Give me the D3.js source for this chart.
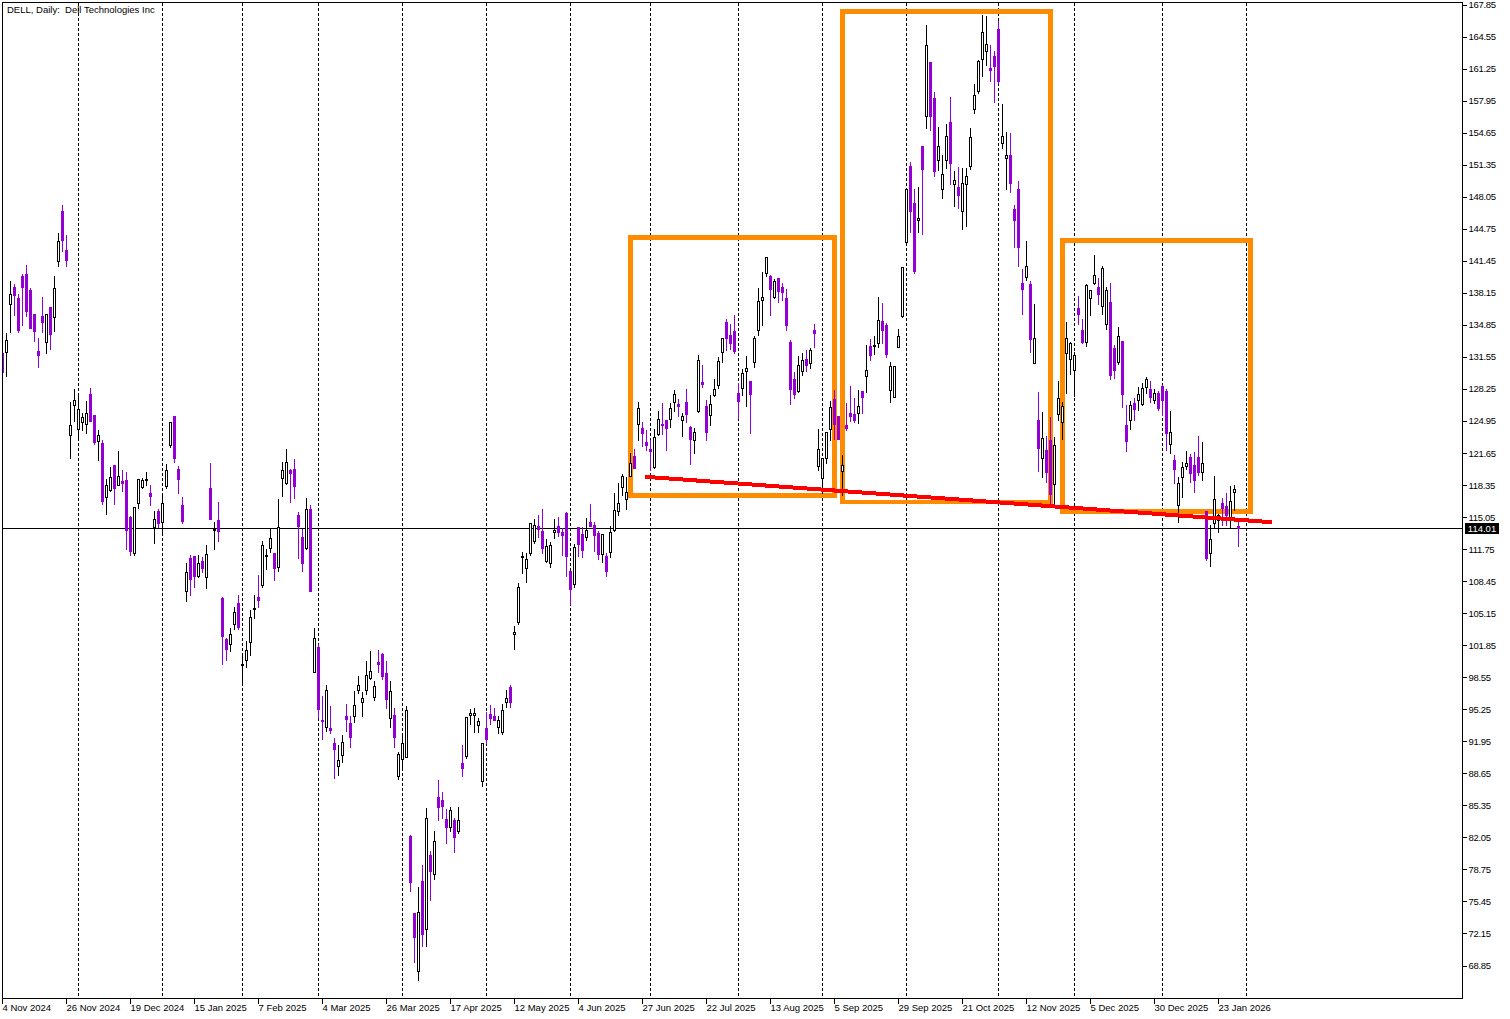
<!DOCTYPE html>
<html>
<head>
<meta charset="utf-8">
<style>
    html, body { margin: 0; padding: 0; background: #fff; overflow: hidden; }
    svg { display: block; }
    text { font-family: "Liberation Sans", sans-serif; font-size: 9.5px; fill: #000; white-space: pre; }
</style>
</head>
<body>
<svg id="chart" width="1510" height="1019"></svg>
<script src="https://cdn.jsdelivr.net/npm/d3@7"></script>
<script>
var title = "DELL, Daily:  Dell Technologies Inc"

var opens = [
    131.96,132.13,137.01,138.76,137.66,139.93,140.14,138.49,136.0,132.2,
    135.8,133.17,136.7,135.67,141.5,146.6,142.6,123.6,126.6,124.13,
    124.86,124.65,127.77,125.58,122.97,122.69,117.2,117.88,120.46,118.43,
    118.81,118.9,115.1,111.43,116.5,118.23,118.9,117.57,114.1,115.72,
    114.62,118.33,122.55,125.47,120.0,116.34,107.45,110.88,111.08,109.06,
    110.57,108.96,118.09,113.8,114.79,106.76,102.5,102.06,104.05,106.25,
    99.86,100.34,102.26,105.63,106.86,108.13,111.05,111.94,111.36,109.99,
    119.15,118.57,119.94,120.01,115.31,113.04,111.94,115.93,99.17,101.68,
    94.19,93.5,93.37,91.82,89.49,90.62,94.57,93.88,94.64,97.31,
    96.08,97.31,98.55,96.6,100.16,100.99,99.03,94.43,94.7,88.45,
    90.21,90.41,82.24,74.27,68.37,77.6,72.63,80.28,78.29,86.26,
    85.95,83.99,83.17,83.85,82.79,89.73,90.45,94.74,94.74,93.71,
    87.94,93.37,94.81,94.6,93.5,93.0,96.01,97.59,103.08,104.25,
    111.0,109.88,111.43,112.67,114.18,113.63,110.57,110.4,113.6,114.18,
    113.6,115.51,109.54,108.23,114.04,113.35,113.0,114.59,114.28,113.45,
    111.26,111.09,111.46,113.73,115.72,118.16,116.92,119.33,121.39,124.72,
    124.24,122.83,122.11,120.29,123.69,124.7,125.1,125.24,126.98,126.74,
    125.06,126.95,124.41,123.0,125.99,129.0,126.54,125.65,127.64,128.67,
    132.07,135.19,133.85,134.27,127.84,128.43,130.11,129.11,131.11,134.4,
    137.5,140.27,139.93,137.8,139.73,138.8,137.63,133.13,129.32,128.08,
    130.18,131.38,131.0,134.37,120.39,119.15,121.2,124.2,127.26,125.5,
    119.8,124.58,125.82,125.71,125.8,128.12,129.66,132.72,132.72,133.06,
    135.26,134.9,128.22,127.5,132.65,135.85,143.4,151.26,147.42,145.66,
    153.3,156.38,161.98,158.27,151.92,148.93,151.92,155.8,149.44,149.1,
    146.66,149.44,151.3,157.17,159.02,162.32,163.15,161.36,162.6,165.38,
    153.67,152.12,152.4,146.83,148.9,139.2,139.86,139.1,131.0,125.1,
    121.2,122.0,123.0,118.5,125.7,124.9,132.0,131.41,130.21,136.63,
    134.37,133.1,137.7,139.25,138.8,136.81,134.99,137.25,132.51,131.07,
    133.23,124.58,125.13,126.85,127.16,126.78,128.53,128.29,127.16,127.88,
    128.6,128.08,122.6,121.0,116.37,119.26,120.4,121.29,120.46,121.29,
    119.77,115.72,111.36,114.45,114.8,116.51,116.24,114.8,117.7,114.18
]

var highs = [
    132.5,134.16,139.52,139.18,138.15,140.2,141.17,138.76,136.0,133.6,
    137.87,136.08,136.7,140.03,144.46,147.4,144.26,127.05,128.36,128.0,
    125.9,127.2,128.5,125.58,124.17,123.1,119.08,120.36,120.46,121.97,
    120.0,119.84,115.3,116.17,119.05,119.19,119.84,118.5,115.82,115.99,
    117.47,120.63,124.85,125.47,120.46,117.27,110.43,111.3,111.08,111.3,
    111.08,112.32,120.77,114.69,116.75,106.97,102.78,103.74,105.94,107.17,
    100.96,102.43,105.63,107.17,109.23,112.73,111.87,113.93,111.46,117.03,
    120.87,122.18,120.12,121.18,115.69,113.93,117.13,116.44,103.74,102.09,
    96.77,97.87,95.74,92.44,91.68,92.71,95.91,94.7,97.28,98.79,
    97.18,100.37,101.4,98.31,101.5,101.16,100.37,98.28,95.53,91.03,
    92.71,95.73,82.45,74.27,77.09,79.35,85.23,80.8,82.86,88.11,
    86.88,85.12,85.3,84.16,85.3,91.72,94.53,95.39,95.53,94.46,
    91.89,95.15,95.84,95.49,94.7,95.91,97.35,97.9,103.98,108.37,
    111.6,111.46,114.55,114.97,115.41,116.0,112.9,112.6,114.97,115.2,
    114.1,115.69,109.54,112.39,114.18,114.18,115.07,116.51,114.66,113.76,
    113.42,111.5,114.25,117.64,118.74,119.6,119.33,121.76,122.18,127.02,
    124.96,124.13,123.1,124.24,126.09,126.95,125.1,126.95,128.29,127.36,
    125.96,128.39,124.58,124.34,131.9,130.87,127.26,127.77,129.39,131.69,
    133.61,135.6,135.09,136.0,129.01,130.42,131.76,129.11,133.82,138.8,
    140.41,141.96,140.14,139.73,139.83,139.31,138.7,133.44,130.14,131.76,
    132.07,132.41,132.62,135.09,124.24,121.15,123.93,127.2,128.29,125.5,
    121.6,126.95,128.7,127.47,128.29,128.19,132.9,133.55,133.9,137.87,
    137.25,135.2,131.17,130.73,134.54,140.96,148.93,151.78,149.0,149.2,
    153.3,165.9,162.08,158.99,155.38,152.5,155.69,158.48,150.85,151.26,
    151.13,151.16,155.28,159.78,162.25,166.92,166.82,163.83,163.2,166.3,
    157.75,154.87,154.77,147.35,149.82,140.76,143.64,139.52,137.15,128.1,
    126.0,123.55,125.5,123.45,129.2,127.05,135.3,133.23,132.24,137.97,
    135.6,139.18,138.49,142.2,139.86,141.06,138.9,139.31,132.93,134.78,
    133.34,126.74,127.16,127.47,128.6,129.0,129.63,129.22,128.4,128.19,
    128.8,128.39,126.13,121.6,119.3,120.87,121.99,121.7,121.9,123.55,
    122.93,115.72,114.38,119.43,115.48,117.2,117.7,118.4,118.5,114.8
]

var lows = [
    129.7,129.66,134.2,135.9,134.2,134.9,135.8,134.6,133.27,130.6,
    134.2,132.03,132.45,134.3,141.0,142.5,140.96,121.2,125.0,123.1,
    124.07,123.8,125.0,122.66,120.97,116.44,115.41,117.78,116.44,118.43,
    117.78,111.8,111.2,111.2,116.06,118.13,118.43,116.34,112.46,114.1,
    113.4,118.1,122.35,120.77,117.6,114.52,106.48,107.06,107.92,108.96,
    109.44,107.79,114.9,111.8,112.63,99.96,100.37,101.33,103.57,103.57,
    98.04,99.69,100.89,104.67,105.86,107.93,109.75,111.53,108.61,109.54,
    117.27,118.5,116.65,117.06,110.88,109.54,111.84,107.5,99.17,94.36,
    92.23,93.09,92.88,88.22,88.52,89.9,93.06,91.44,93.98,97.0,
    94.6,96.87,98.38,96.25,99.14,98.41,95.42,93.5,91.44,88.15,
    89.4,90.41,76.57,69.26,67.4,70.9,70.9,75.65,77.81,83.9,
    84.06,81.52,82.76,80.59,82.58,88.42,90.24,93.78,92.95,92.95,
    87.39,91.79,93.78,94.19,92.85,92.75,95.53,95.53,101.5,104.08,
    109.3,108.41,111.22,112.46,113.08,111.43,110.47,109.99,112.97,113.15,
    111.2,109.03,106.14,107.93,111.09,110.98,112.73,114.18,111.6,110.78,
    110.47,109.03,110.98,113.7,115.3,117.37,115.9,119.3,120.18,123.04,
    122.42,122.0,119.95,120.15,123.55,123.65,122.0,124.4,126.02,125.51,
    123.45,124.89,120.56,121.7,125.95,128.5,123.04,124.58,127.57,128.36,
    131.07,132.3,132.41,132.0,125.27,127.67,126.54,123.76,130.56,133.85,
    134.9,139.93,135.91,137.66,137.25,137.46,134.37,126.74,127.36,127.95,
    129.73,130.14,130.45,132.62,119.95,117.54,120.7,123.04,123.1,123.14,
    117.37,124.07,125.0,124.9,124.79,125.85,128.0,131.3,131.9,132.65,
    133.06,131.62,126.99,127.43,132.65,135.74,143.1,144.5,140.27,144.5,
    144.26,155.18,154.97,150.23,150.85,147.97,151.09,149.4,147.14,146.94,
    144.77,145.08,150.96,156.76,158.78,160.54,161.67,160.02,157.86,159.82,
    153.12,148.89,148.6,142.92,140.96,136.0,139.52,132.1,131.0,119.84,
    119.2,118.7,116.5,116.34,125.1,123.14,127.9,129.83,127.57,134.99,
    133.03,132.72,135.91,139.1,137.05,136.0,134.47,129.32,129.42,130.86,
    126.44,121.9,124.17,125.1,126.13,126.64,127.88,126.95,126.85,126.13,
    125.6,122.0,121.7,118.6,114.6,117.16,120.0,118.7,117.68,119.4,
    118.92,110.67,110.05,114.04,113.6,114.28,114.28,114.1,115.83,112.1
]

var closes = [
    130.07,133.34,138.04,137.97,134.37,138.83,136.36,134.6,134.3,131.8,
    135.2,135.98,133.96,138.66,143.5,143.64,141.6,124.55,127.2,126.2,
    125.44,125.85,125.03,122.86,123.58,116.79,118.36,119.26,118.12,119.29,
    118.6,113.76,111.6,116.17,119.0,118.88,119.0,117.27,114.86,114.52,
    116.51,119.9,124.85,121.2,119.05,114.7,109.4,108.75,109.03,110.33,
    109.85,111.25,114.9,113.9,113.66,102.85,101.5,103.02,105.28,103.8,
    99.93,101.37,104.77,105.73,106.55,112.18,111.15,112.9,109.85,114.04,
    119.91,120.73,119.64,118.3,114.17,110.4,115.9,107.5,102.6,95.36,
    94.1,97.25,93.16,91.2,90.04,91.89,94.29,92.44,95.7,97.76,
    96.42,98.79,99.2,97.66,99.96,98.72,96.35,97.14,92.44,90.65,
    91.79,95.19,77.54,71.87,74.38,72.18,84.06,78.63,81.69,85.23,
    85.33,83.17,84.88,82.14,83.85,89.24,94.46,94.88,94.88,94.05,
    91.79,92.23,94.4,94.19,94.16,95.19,96.42,96.05,103.22,107.86,
    111.1,110.74,114.45,114.25,113.9,111.94,112.08,112.2,113.73,113.56,
    113.28,111.12,107.69,111.98,112.32,111.7,113.73,114.18,113.28,111.29,
    113.32,109.54,113.52,115.79,116.51,119.29,117.71,120.63,120.18,126.3,
    123.76,122.52,121.9,123.31,125.17,124.58,124.27,126.3,127.74,126.54,
    125.47,125.71,123.14,123.83,131.24,128.8,123.86,126.71,128.26,131.14,
    133.51,133.54,133.03,132.2,127.05,129.9,130.42,127.77,133.51,137.32,
    137.74,141.85,138.59,139.38,138.39,138.28,134.88,128.32,127.77,130.73,
    131.28,130.76,132.27,134.06,122.07,121.15,123.83,126.4,124.72,123.14,
    120.43,124.27,125.5,125.1,126.5,127.5,130.25,131.8,132.82,135.37,
    134.37,131.9,130.62,130.62,133.72,140.82,148.86,146.66,140.48,145.94,
    150.99,163.7,156.45,150.75,153.29,150.4,154.32,151.57,149.79,148.28,
    149.48,150.23,154.22,158.54,162.05,165.03,163.8,161.15,161.57,160.02,
    154.35,152.4,149.5,145.7,142.92,138.6,140.93,133.44,133.5,122.2,
    123.2,119.74,117.5,122.5,127.33,126.5,133.5,132.99,131.76,136.02,
    133.13,138.97,138.45,139.99,138.08,140.72,138.45,129.73,130.25,133.72,
    127.78,122.93,126.6,126.23,127.74,128.4,129.29,127.47,127.84,126.33,
    127.16,123.76,123.86,120.05,118.57,120.22,120.63,119.64,118.92,119.74,
    120.63,110.88,112.8,116.92,115.27,116.0,115.3,116.72,117.95,114.01
]

// bar indexes of the month separators
var monthBars = [19, 40, 60, 79, 100, 121, 142, 162, 184, 205, 226, 249, 268, 290, 311]

var dateLabels = ["4 Nov 2024", "26 Nov 2024", "19 Dec 2024", "15 Jan 2025", "7 Feb 2025",
    "4 Mar 2025", "26 Mar 2025", "17 Apr 2025", "12 May 2025", "4 Jun 2025",
    "27 Jun 2025", "22 Jul 2025", "13 Aug 2025", "5 Sep 2025", "29 Sep 2025",
    "21 Oct 2025", "12 Nov 2025", "5 Dec 2025", "30 Dec 2025", "23 Jan 2026"]
var dateBars = [0, 16, 32, 48, 64, 80, 96, 112, 128, 144, 160, 176, 192, 208, 224, 240, 256, 272, 288, 304]

var priceTicks = [167.85, 164.55, 161.25, 157.95, 154.65, 151.35, 148.05, 144.75, 141.45, 138.15,
    134.85, 131.55, 128.25, 124.95, 121.65, 118.35, 115.05, 111.75, 108.45, 105.15,
    101.85, 98.55, 95.25, 91.95, 88.65, 85.35, 82.05, 78.75, 75.45, 72.15, 68.85]

var lastPrice = 114.01

// shoulders and head, in bars and prices
var boxLeft = [157, 210, 265]
var boxRight = [208, 262, 312]
var boxTop = [143.92, 167.18, 143.59]
var boxBottom = [117.34, 116.66, 115.67]

var necklineBars = [160.6, 317.3]
var necklinePrices = [119.25, 114.57]

var bearColor = "#9400d3"
var orange = "#ff8c00"

var svg = d3.select("#chart")

var x = d3.scaleLinear().domain([0, 309]).range([2.5, 1238.5])
var y = d3.scaleLinear().domain([68.85, 167.85]).range([966, 5])

function py(price) {
    return Math.round(y(price)) + 0.5
}

svg.append("defs").append("clipPath")
    .attr("id", "plot")
    .append("rect")
    .attr("x", 3).attr("y", 3).attr("width", 1459).attr("height", 995)

svg.append("text")
    .attr("x", 7)
    .attr("y", 13)
    .text(title)

svg.append("g").selectAll("line")
    .data(monthBars)
    .join("line")
    .attr("x1", function(d) { return x(d) })
    .attr("x2", function(d) { return x(d) })
    .attr("y1", 3)
    .attr("y2", 998)
    .attr("stroke", "#000")
    .attr("stroke-dasharray", "3,2")
    .attr("shape-rendering", "crispEdges")

svg.append("line")
    .attr("x1", 3)
    .attr("x2", 1462)
    .attr("y1", py(lastPrice))
    .attr("y2", py(lastPrice))
    .attr("stroke", "#000")
    .attr("shape-rendering", "crispEdges")

// the boxes sit under the candles, the neckline over them
svg.append("g").selectAll("rect")
    .data(d3.range(boxLeft.length))
    .join("rect")
    .attr("x", function(i) { return x(boxLeft[i]) })
    .attr("y", function(i) { return y(boxTop[i]) })
    .attr("width", function(i) { return x(boxRight[i]) - x(boxLeft[i]) })
    .attr("height", function(i) { return y(boxBottom[i]) - y(boxTop[i]) })
    .attr("fill", "none")
    .attr("stroke", orange)
    .attr("stroke-width", 4.5)
    .attr("shape-rendering", "crispEdges")

var candles = svg.append("g")
    .attr("clip-path", "url(#plot)")
    .attr("shape-rendering", "crispEdges")
    .selectAll("g")
    .data(d3.range(opens.length))
    .join("g")

function candleColor(i) {
    return closes[i] >= opens[i] ? "#000" : bearColor
}

candles.append("line")
    .attr("x1", function(i) { return x(i) })
    .attr("x2", function(i) { return x(i) })
    .attr("y1", function(i) { return py(highs[i]) })
    .attr("y2", function(i) { return py(lows[i]) })
    .attr("stroke", candleColor)

candles.append("rect")
    .attr("x", function(i) { return x(i) - 1 })
    .attr("width", 2)
    .attr("y", function(i) { return py(Math.max(opens[i], closes[i])) })
    .attr("height", function(i) { return py(Math.min(opens[i], closes[i])) - py(Math.max(opens[i], closes[i])) })
    .attr("fill", function(i) { return closes[i] >= opens[i] ? "#fff" : bearColor })
    .attr("stroke", candleColor)

svg.append("line")
    .attr("x1", x(necklineBars[0]))
    .attr("x2", x(necklineBars[1]))
    .attr("y1", y(necklinePrices[0]))
    .attr("y2", y(necklinePrices[1]))
    .attr("stroke", "#ff0000")
    .attr("stroke-width", 4)
    .attr("shape-rendering", "crispEdges")

var priceAxis = d3.axisRight(y)
    .tickValues(priceTicks)
    .tickFormat(d3.format(".2f"))
    .tickSize(4)
    .tickPadding(2)
    .offset(0)

var priceG = svg.append("g")
    .attr("transform", "translate(1462.5,0)")
    .call(priceAxis)
priceG.select(".domain").remove()
priceG.selectAll("line").attr("shape-rendering", "crispEdges")
priceG.selectAll("text")
    .style("font-family", '"Liberation Sans", sans-serif')
    .style("font-size", "9.5px")
    .style("letter-spacing", "-0.3px")
    .attr("fill", "#000")

var dateAxis = d3.axisBottom(x)
    .tickValues(dateBars)
    .tickFormat(function(d, i) { return dateLabels[i] })
    .tickSize(5)
    .tickPadding(1)
    .offset(0)

var dateG = svg.append("g")
    .attr("transform", "translate(0,998.5)")
    .call(dateAxis)
dateG.select(".domain").remove()
dateG.selectAll("line").attr("shape-rendering", "crispEdges")
dateG.selectAll("text")
    .attr("text-anchor", "start")
    .style("font-family", '"Liberation Sans", sans-serif')
    .style("font-size", "9.5px")
    .attr("fill", "#000")

// frame sits over the clipped candles
svg.append("rect")
    .attr("x", 2.5)
    .attr("y", 2.5)
    .attr("width", 1460)
    .attr("height", 996)
    .attr("fill", "none")
    .attr("stroke", "#000")
    .attr("shape-rendering", "crispEdges")

svg.append("rect")
    .attr("x", 1465)
    .attr("y", py(lastPrice) - 5.5)
    .attr("width", 34)
    .attr("height", 11)
    .attr("fill", "#000")

svg.append("text")
    .attr("x", 1482)
    .attr("y", py(lastPrice) + 3.5)
    .attr("text-anchor", "middle")
    .style("fill", "#fff")
    .text(lastPrice.toFixed(2))
</script>
</body>
</html>
